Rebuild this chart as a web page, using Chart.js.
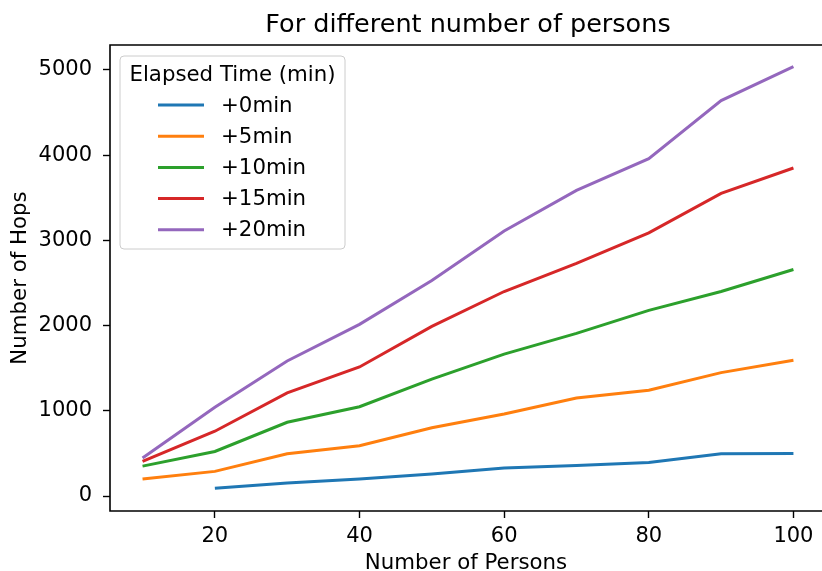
<!DOCTYPE html>
<html>
<head>
<meta charset="utf-8">
<script src="https://cdn.jsdelivr.net/npm/chart.js@4.4.1/dist/chart.umd.min.js"></script>
<style>
  html, body { margin: 0; padding: 0; background: #fff; overflow: hidden; }
  #wrap { width: 822px; height: 571px; }
</style>
</head>
<body>
<div id="wrap"><canvas id="hopsChart"></canvas></div>
<script>
// data
var persons = [10, 20, 30, 40, 50, 60, 70, 80, 90, 100];
var seriesLabels = ['+0min', '+5min', '+10min', '+15min', '+20min'];
var hops0 = [null, 90, 152, 200, 258, 330, 358, 394, 495, 500];
var hops5 = [199, 289, 495, 589, 800, 962, 1150, 1241, 1448, 1592];
var hops10 = [351, 523, 865, 1048, 1372, 1665, 1909, 2178, 2400, 2658];
var hops15 = [406, 760, 1210, 1514, 1990, 2400, 2730, 3088, 3552, 3849];
var hops20 = [445, 1042, 1584, 2014, 2530, 3110, 3587, 3960, 4640, 5039];
var xTicks = [20, 40, 60, 80, 100];
var yTicks = [0, 1000, 2000, 3000, 4000, 5000];

var colors = ['#1f77b4', '#ff7f0e', '#2ca02c', '#d62728', '#9467bd'];
var FONT = 'DejaVu Sans';
var TITLE = 'For different number of persons';

function toPoints(vals) {
  return persons.map(function (p, i) { return { x: p, y: vals[i] }; });
}

var allSeries = [hops0, hops5, hops10, hops15, hops20];
var datasets = allSeries.map(function (vals, i) {
  return {
    label: seriesLabels[i],
    data: toPoints(vals),
    borderColor: colors[i],
    backgroundColor: colors[i],
    borderWidth: 3,
    pointRadius: 0,
    tension: 0,
    spanGaps: false
  };
});

// spines: left, bottom, top (the right one is cut off in the original)
// plus the title, centred over the full axes width like matplotlib does
var framePlugin = {
  id: 'frame',
  afterDatasetsDraw: function (chart) {
    var a = chart.chartArea, c = chart.ctx;
    c.save();
    c.strokeStyle = '#000';
    c.lineWidth = 1.6;
    c.beginPath();
    c.moveTo(a.right + 2, a.top);
    c.lineTo(a.left, a.top);
    c.lineTo(a.left, a.bottom);
    c.lineTo(a.right + 2, a.bottom);
    c.stroke();
    var cx = chart.scales.x.getPixelForValue((5.5 + 104.5) / 2);
    c.fillStyle = '#000';
    c.font = '25.5px "' + FONT + '"';
    c.textAlign = 'center';
    c.textBaseline = 'middle';
    c.fillText(TITLE, cx, 25);
    c.restore();
  }
};

// legend box inside the axes, upper left
var legendPlugin = {
  id: 'boxLegend',
  afterDraw: function (chart) {
    var a = chart.chartArea, c = chart.ctx;
    var x0 = a.left + 10, y0 = a.top + 11, w = 225, h = 193;
    c.save();
    c.fillStyle = 'rgba(255,255,255,0.8)';
    c.strokeStyle = '#cccccc';
    c.lineWidth = 1;
    c.beginPath();
    c.roundRect(x0, y0, w, h, 4);
    c.fill();
    c.stroke();
    c.fillStyle = '#000';
    c.font = '21.3px "' + FONT + '"';
    c.textBaseline = 'middle';
    c.textAlign = 'center';
    c.fillText('Elapsed Time (min)', x0 + w / 2, y0 + 19);
    c.textAlign = 'left';
    chart.data.datasets.forEach(function (ds, i) {
      var y = y0 + 49 + i * 31.2;
      c.strokeStyle = ds.borderColor;
      c.lineWidth = 3;
      c.beginPath();
      c.moveTo(x0 + 38, y);
      c.lineTo(x0 + 84, y);
      c.stroke();
      c.fillStyle = '#000';
      c.fillText(ds.label, x0 + 101, y + 1);
    });
    c.restore();
  }
};

var ctx = document.getElementById('hopsChart').getContext('2d');
var hopsChart = new Chart(ctx, {
  type: 'line',
  data: { datasets: datasets },
  options: {
    responsive: true,
    maintainAspectRatio: false,
    animation: false,
    layout: { padding: { top: 45, left: 0, right: 0, bottom: 0 } },
    scales: {
      x: {
        type: 'linear',
        min: 5.5,
        max: 103.95,
        afterFit: function (s) { s.height = 60; },
        afterBuildTicks: function (s) { s.ticks = xTicks.map(function (v) { return { value: v }; }); },
        grid: { display: true, drawOnChartArea: false, tickLength: 7, tickColor: '#000', tickWidth: 1.4 },
        border: { display: false },
        ticks: { color: '#000', font: { family: FONT, size: 21 }, padding: 6, maxRotation: 0,
                 callback: function (v) { return String(v); } },
        title: { display: true, text: 'Number of Persons', color: '#000',
                 font: { family: FONT, size: 21.3, lineHeight: 0.75 }, padding: { top: 0, bottom: 0 } }
      },
      y: {
        min: -176,
        max: 5293,
        afterFit: function (s) { s.width = 110; },
        afterBuildTicks: function (s) { s.ticks = yTicks.map(function (v) { return { value: v }; }); },
        grid: { display: true, drawOnChartArea: false, tickLength: 7, tickColor: '#000', tickWidth: 1.4 },
        border: { display: false },
        ticks: { color: '#000', font: { family: FONT, size: 21 }, padding: 11,
                 callback: function (v) { return String(v); } },
        title: { display: true, text: 'Number of Hops', color: '#000',
                 font: { family: FONT, size: 21.3 }, padding: { top: 8, bottom: 0 } }
      }
    },
    plugins: {
      legend: { display: false },
      tooltip: { enabled: false },
      title: { display: false }
    }
  },
  plugins: [framePlugin, legendPlugin]
});
</script>
</body>
</html>
